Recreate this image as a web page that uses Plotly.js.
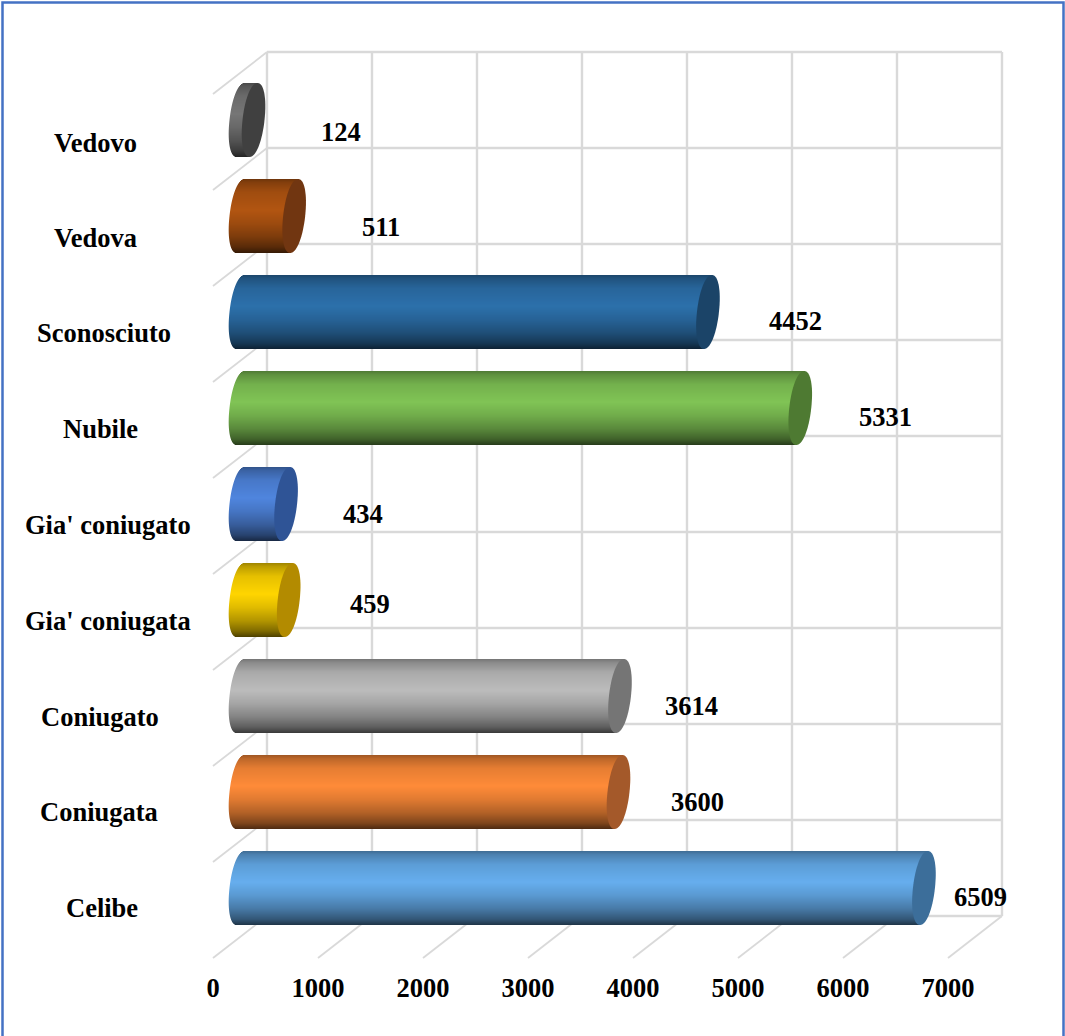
<!DOCTYPE html>
<html>
<head>
<meta charset="utf-8">
<script src="https://cdn.plot.ly/plotly-3.0.1.min.js"></script>
<style>html,body{margin:0;padding:0;background:#fff}#chart{width:1065px;height:1036px}</style>
</head>
<body>
<div id="chart"></div>
<script>
// ---- data ----
const categories = ["Celibe","Coniugata","Coniugato","Gia' coniugata","Gia' coniugato","Nubile","Sconosciuto","Vedova","Vedovo"];
const values = [6509,3600,3614,459,434,5331,4452,511,124];
const xTicks = [0,1000,2000,3000,4000,5000,6000,7000];
const bodyColors = ["#66aeee","#ff8b38","#bcbcbc","#ffd500","#4f85de","#80c455","#2c70ab","#b25511","#767676"];
const capColors = ["#3c6e9a","#a4592a","#757575","#b38b00","#2f5496","#4e7a32","#1b4468","#713611","#404040"];

// ---- layout helpers (pixel geometry of the fake 3D box) ----
const W = 1065, H = 1036;
const pxPerUnit = 0.105, x0px = 213, y0px = 888, bandPx = 96;
const wallDX = 54 / pxPerUnit, barDX = 27.5 / pxPerUnit;
const floorY = -28 / bandPx, frontY = -70 / bandPx, wallDY = 42 / bandPx;
const halfBar = 37 / bandPx;
const rx = 11 / pxPerUnit, skew = 4 / pxPerUnit, sq = 2.1;
const gridColor = "#d9d9d9";
const serif = "'Liberation Serif','Times New Roman',serif";

// lightness profile across the cylinder, top to bottom
const shadeStops = [[0,.62],[.05,.74],[.18,.9],[.42,1],[.6,.88],[.78,.7],[.92,.5],[1,.3]];
function shadeAt(t){
  for(let i=1;i<shadeStops.length;i++){
    if(t<=shadeStops[i][0]){
      const a=shadeStops[i-1],b=shadeStops[i];
      return a[1]+(b[1]-a[1])*(t-a[0])/(b[0]-a[0]);
    }
  }
  return .3;
}
function shade(hex,k){
  const n=parseInt(hex.slice(1),16);
  return "rgb("+[(n>>16)&255,(n>>8)&255,n&255].map(c=>Math.round(c*k)).join(",")+")";
}

function gridLine(x0,y0,x1,y1,width){
  return {type:"line",xref:"x",yref:"y",layer:"below",x0:x0,y0:y0,x1:x1,y1:y1,line:{color:gridColor,width:width}};
}
const shapes = [];
// back wall, left wall and floor lines, drawn below the bars
xTicks.forEach(v=>{
  shapes.push(gridLine(v+wallDX,floorY,v+wallDX,floorY+9,2.4));
  shapes.push(gridLine(v,frontY,v+wallDX,floorY,1.8));
});
for(let i=0;i<=9;i++){
  shapes.push(gridLine(wallDX,floorY+i,7000+wallDX,floorY+i,2.4));
  if(i>0) shapes.push(gridLine(0,floorY+i-wallDY,wallDX,floorY+i,1.8));
}

// cylinder bodies: one thin horizontal strip per pixel row
const traces = [];
const N = 74;
const idx = categories.map((c,i)=>i);
for(let s=0;s<N;s++){
  const t=(s+.5)/N, u=1-2*t;             // u: +1 top, -1 bottom
  const round=Math.pow(Math.max(0,1-Math.pow(Math.abs(u),sq)),1/sq);
  const starts=values.map(()=>barDX+skew*u-rx*round);
  traces.push({
    type:"bar",orientation:"h",y:idx,opacity:1,
    x:values.map((v,i)=>v+barDX+skew*u-starts[i]),
    base:starts,
    offset:halfBar*(2*(N-s-1)/N-1),width:2*halfBar/N,
    marker:{color:bodyColors.map(c=>shade(c,shadeAt(t))),opacity:1,line:{width:0}},
    hoverinfo:"skip",showlegend:false
  });
}

// end caps (tilted rounded ellipses)
values.forEach((v,i)=>{
  const c=v+barDX, pts=[];
  for(let a=0;a<90;a++){
    const th=a/90*2*Math.PI, sn=Math.sin(th), cs=Math.cos(th);
    const u=Math.sign(sn)*Math.pow(Math.abs(sn),2/sq), w=Math.sign(cs)*Math.pow(Math.abs(cs),2/sq);
    pts.push((c+skew*u+rx*w).toFixed(2)+","+(i+halfBar*u).toFixed(4));
  }
  shapes.push({type:"path",xref:"x",yref:"y",layer:"above",path:"M"+pts.join("L")+"Z",
          fillcolor:capColors[i],line:{width:0}});
});
shapes.push({type:"rect",xref:"paper",yref:"paper",x0:2.5/W,x1:1063.5/W,y0:-0.01,y1:1-2.5/H,
             fillcolor:"rgba(0,0,0,0)",line:{color:"#4472c4",width:2.5},layer:"above"});

// text placed next to the marks
const labelCentres = [102,99,99.5,108,108,100,104,95,95];
const labelDrop = [20,20,21,21,21,21,21,22,23];
const valueShift = [57,78.5,71.5,81.5,76.5,85.5,87.5,87,87.5];
const valueDrop = [9,10,10,4,10,9,9,11,12];
const font = {family:serif,size:26.5,color:"#000"};
const annotations = [];
categories.forEach((c,i)=>{
  annotations.push({text:"<b>"+c+"</b>",xref:"paper",yref:"y",x:labelCentres[i]/W,y:i,yshift:-labelDrop[i],
    xanchor:"center",yanchor:"middle",showarrow:false,font:font});
  annotations.push({text:"<b>"+values[i]+"</b>",xref:"x",yref:"y",x:values[i]+barDX,y:i,xshift:valueShift[i],yshift:-valueDrop[i],
    xanchor:"center",yanchor:"middle",showarrow:false,font:font});
});

const layout = {
  width:W,height:H,margin:{l:0,r:0,t:0,b:0},
  paper_bgcolor:"#fff",plot_bgcolor:"rgba(0,0,0,0)",
  barmode:"overlay",showlegend:false,hovermode:false,
  xaxis:{range:[-x0px/pxPerUnit,(W-x0px)/pxPerUnit],domain:[0,1],anchor:"free",position:(H-958)/H,
    tickmode:"array",tickvals:xTicks,ticktext:xTicks.map(v=>"<b>"+v+"</b>"),ticks:"",
    ticklabelstandoff:11,tickfont:font,showgrid:false,zeroline:false,showline:false,fixedrange:true},
  yaxis:{range:[(y0px-H)/bandPx,y0px/bandPx],domain:[0,1],showgrid:false,zeroline:false,showline:false,
    showticklabels:false,ticks:"",fixedrange:true},
  shapes:shapes,annotations:annotations
};
Plotly.newPlot("chart",traces,layout,{displayModeBar:false});
</script>
</body>
</html>
